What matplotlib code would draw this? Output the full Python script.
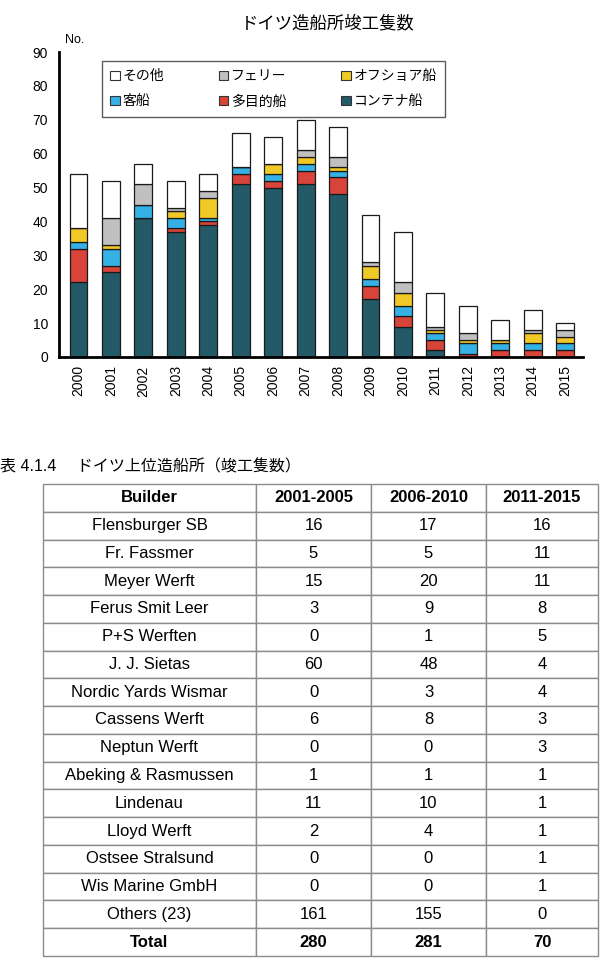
import numpy as np
import matplotlib
matplotlib.use("Agg")
import matplotlib.pyplot as plt
from matplotlib.patches import Patch

plt.rcParams['font.family'] = ['Liberation Sans', 'Noto Sans CJK JP', 'DejaVu Sans']

# chart data (ships completed per year, by type)
years = [str(y) for y in range(2000, 2016)]
container = [22, 25, 41, 37, 39, 51, 50, 51, 48, 17, 9, 2, 0, 0, 0, 0]
multipurpose = [10, 2, 0, 1, 1, 3, 2, 4, 5, 4, 3, 3, 1, 2, 2, 2]
passenger = [2, 5, 4, 3, 1, 2, 2, 2, 2, 2, 3, 2, 3, 2, 2, 2]
offshore = [4, 1, 0, 2, 6, 0, 3, 2, 1, 4, 4, 1, 1, 1, 3, 2]
ferry = [0, 8, 6, 1, 2, 0, 0, 2, 3, 1, 3, 1, 2, 0, 1, 2]
other = [16, 11, 6, 8, 5, 10, 8, 9, 9, 14, 15, 10, 8, 6, 6, 2]

series_names = ['コンテナ船', '多目的船', '客船', 'オフショア船', 'フェリー', 'その他']
series_colors = ['#245a68', '#d8433a', '#35b1e6', '#f1c926', '#c0c0c0', '#ffffff']

# table data
builders = ['Flensburger SB', 'Fr. Fassmer', 'Meyer Werft', 'Ferus Smit Leer',
            'P+S Werften', 'J. J. Sietas', 'Nordic Yards Wismar', 'Cassens Werft',
            'Neptun Werft', 'Abeking & Rasmussen', 'Lindenau', 'Lloyd Werft',
            'Ostsee Stralsund', 'Wis Marine GmbH', 'Others (23)', 'Total']
p2001_2005 = [16, 5, 15, 3, 0, 60, 0, 6, 0, 1, 11, 2, 0, 0, 161, 280]
p2006_2010 = [17, 5, 20, 9, 1, 48, 3, 8, 0, 1, 10, 4, 0, 0, 155, 281]
p2011_2015 = [16, 11, 11, 8, 5, 4, 4, 3, 3, 1, 1, 1, 1, 1, 0, 70]
headers = ['Builder', '2001-2005', '2006-2010', '2011-2015']

W, H = 601, 958
fig = plt.figure(figsize=(W / 100, H / 100), dpi=100)

# ---- stacked bar chart ----
ax = fig.add_axes([59 / W, 1 - 357 / H, (583 - 59) / W, (357 - 52) / H])
x = np.arange(len(years))
bottom = np.zeros(len(years))
stack = [container, multipurpose, passenger, offshore, ferry, other]
for vals, name, col in zip(stack, series_names, series_colors):
    ax.bar(x, vals, 0.55, bottom=bottom, color=col, edgecolor='#1a1a1a',
           linewidth=0.9, label=name, zorder=2)
    bottom += np.array(vals)

ax.set_xlim(-0.6, len(years) - 0.45)
ax.set_ylim(0, 90)
ax.set_yticks(range(0, 91, 10))
ax.set_xticks(x)
ax.set_xticklabels(years, rotation=90, fontsize=10)
ax.tick_params(axis='y', length=0, labelsize=10, pad=8)
ax.tick_params(axis='x', length=0, pad=6)
for s in ['top', 'right']:
    ax.spines[s].set_visible(False)
for s in ['left', 'bottom']:
    ax.spines[s].set_linewidth(2)
    ax.spines[s].set_color('black')

# legend order: rows その他/フェリー/オフショア船, 客船/多目的船/コンテナ船
order = [5, 2, 4, 1, 3, 0]
handles = [Patch(facecolor=series_colors[i], edgecolor='#333333', linewidth=0.8,
                 label=series_names[i]) for i in order]
leg = ax.legend(handles=handles, ncol=3, loc='upper left',
                bbox_to_anchor=((102 - 59) / 524, (357 - 111) / 305,
                                (445 - 102) / 524, 50 / 305),
                mode='expand', fontsize=10, frameon=True, fancybox=False,
                handlelength=0.7, handleheight=0.7, handletextpad=0.2,
                borderpad=0.6, labelspacing=0.8, borderaxespad=0)
leg.get_frame().set_edgecolor('#333333')
leg.get_frame().set_linewidth(1.0)

fig.text(328 / W, 1 - 23 / H, 'ドイツ造船所竣工隻数', ha='center', va='center', fontsize=12.5)
fig.text(65 / W, 1 - 40 / H, 'No.', ha='left', va='center', fontsize=9)

# ---- table ----
fig.text(0 / W, 1 - 467 / H, '表 4.1.4　 ドイツ上位造船所（竣工隻数）', ha='left',
         va='center', fontsize=11.5)

tax = fig.add_axes([43 / W, 1 - 956 / H, (598 - 43) / W, (956 - 484) / H])
tax.axis('off')
cells = [[b, str(a), str(c), str(d)] for b, a, c, d in
         zip(builders, p2001_2005, p2006_2010, p2011_2015)]
colw = np.array([213, 115, 115, 112], dtype=float)
tbl = tax.table(cellText=cells, colLabels=headers, colWidths=list(colw / colw.sum()),
                cellLoc='center', bbox=[0, 0, 1, 1])
tbl.auto_set_font_size(False)
tbl.set_fontsize(12)
nrows = len(cells) + 1
for (r, c), cell in tbl.get_celld().items():
    cell.set_edgecolor('#8c8c8c')
    cell.set_linewidth(1.0)
    if r == 0 or r == nrows - 1:
        cell.get_text().set_fontweight('bold')

fig.savefig('out.png', dpi=100)
